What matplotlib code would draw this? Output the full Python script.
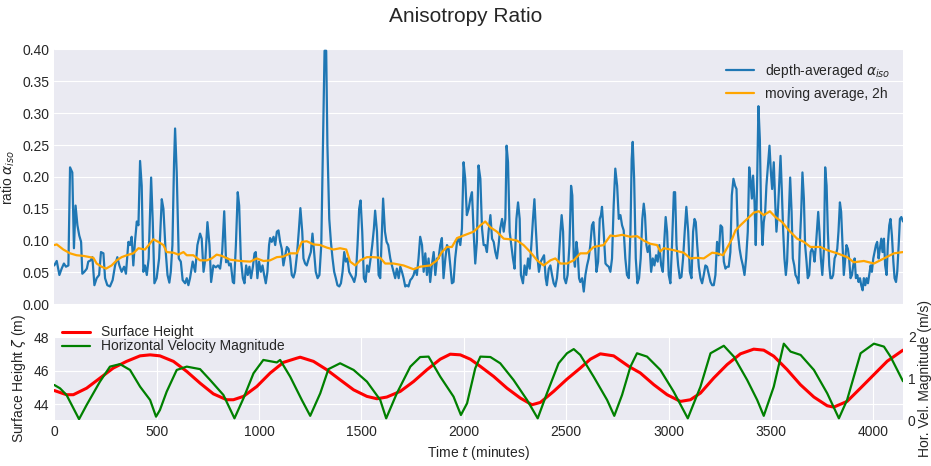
import matplotlib
matplotlib.use("Agg")
import matplotlib.pyplot as plt

# depth-averaged anisotropy ratio (minutes, ratio)
ratio_t = [
    0, 12, 25, 36, 47, 57, 69, 77, 88, 96,
    104, 113, 122, 131, 137, 147, 159, 166, 178, 186,
    196, 207, 219, 228, 240, 248, 259, 272, 285, 297,
    308, 318, 329, 341, 350, 362, 370, 378, 386, 394,
    403, 411, 419, 427, 435, 443, 452, 461, 473, 481,
    489, 500, 512, 525, 533, 543, 553, 562, 569, 577,
    585, 590, 598, 608, 618, 627, 639, 647, 655, 663,
    676, 688, 699, 712, 720, 729, 738, 748, 758, 766,
    777, 789, 800, 810, 820, 830,
    839, 846, 854, 862, 872, 878, 887, 896, 903, 911,
    921, 929, 937, 945, 953, 961, 970, 978, 984, 992,
    1000, 1009, 1017, 1025, 1033, 1041, 1049, 1054, 1062, 1071,
    1079, 1087, 1095, 1103, 1111, 1119, 1128, 1136, 1144, 1152,
    1160, 1168, 1176, 1185, 1194, 1202, 1211, 1217, 1225, 1233,
    1243, 1253, 1261, 1269, 1277, 1286, 1295, 1304, 1312, 1320,
    1328, 1334, 1343, 1351, 1359, 1367, 1375, 1383, 1392, 1400,
    1408, 1416, 1424, 1432, 1440, 1448, 1457, 1465, 1473, 1481,
    1489, 1496, 1504, 1512, 1520, 1528, 1536, 1545, 1553, 1561,
    1567, 1576, 1584, 1592, 1600, 1606, 1615, 1623, 1631, 1641,
    1649, 1657,
    1665, 1673, 1682, 1690, 1698, 1706, 1714, 1722, 1730, 1739,
    1747, 1755, 1763, 1771, 1779, 1787, 1796, 1804, 1812, 1820,
    1828, 1836, 1844, 1853, 1861, 1869, 1877, 1885, 1893, 1901,
    1910, 1918, 1926, 1934, 1942, 1950, 1958, 1967, 1975, 1983,
    1991, 1999, 2007, 2015, 2024, 2032, 2040, 2048, 2056, 2064,
    2072, 2081, 2089, 2097, 2105, 2113, 2121, 2130, 2138, 2146,
    2154, 2162, 2170, 2178, 2187, 2195, 2203, 2209, 2216, 2224,
    2232, 2240, 2248, 2257, 2265, 2273, 2279, 2289, 2297, 2305,
    2314, 2322, 2330, 2338, 2345, 2351, 2359, 2367, 2376, 2384,
    2392, 2400, 2406, 2415, 2423, 2431, 2439, 2447, 2455, 2464,
    2472, 2478, 2485, 2491,
    2499, 2507, 2516, 2524, 2530, 2537, 2543, 2550, 2556, 2563,
    2569, 2578, 2586, 2594, 2602, 2610, 2618, 2626, 2633, 2641,
    2648, 2656, 2664, 2670, 2675, 2683, 2692, 2700, 2708, 2716,
    2724, 2732, 2740, 2749, 2757, 2765, 2773, 2781, 2789, 2797,
    2806, 2814, 2820, 2825, 2832, 2840, 2848, 2856, 2864, 2872,
    2879, 2885, 2892, 2898, 2907, 2915, 2923, 2931, 2939, 2947,
    2955, 2964, 2972, 2980, 2986, 2993, 3001, 3009, 3017, 3026,
    3032, 3039, 3047, 3055, 3063, 3071, 3079, 3087, 3096, 3104,
    3112, 3120, 3127, 3133, 3140, 3148, 3156, 3164, 3172, 3180,
    3188, 3197, 3205, 3213, 3221, 3229, 3237, 3245, 3254, 3262,
    3270, 3278, 3286, 3294, 3302, 3309, 3317, 3325,
    3332, 3338, 3347, 3355, 3363, 3371, 3379, 3387, 3394, 3400,
    3407, 3413, 3420, 3426, 3433, 3439, 3446, 3452, 3459, 3465,
    3472, 3478, 3487, 3493, 3500, 3506, 3514, 3521, 3527, 3534,
    3540, 3547, 3553, 3560, 3566, 3573, 3579, 3588, 3594, 3601,
    3607, 3614, 3620, 3628, 3635, 3641, 3648, 3654, 3661, 3667,
    3674, 3680, 3687, 3694, 3700, 3707, 3713, 3720, 3726, 3731,
    3737, 3744, 3751, 3759, 3765, 3772, 3778, 3785, 3791, 3798,
    3804, 3811, 3817, 3824, 3830, 3837, 3843, 3850, 3856, 3863,
    3869, 3876, 3882, 3889, 3896, 3902, 3909, 3915, 3922, 3928,
    3935, 3941, 3948, 3954, 3961, 3967, 3974, 3980, 3987, 3993,
    4000, 4006, 4013, 4019, 4026, 4032, 4039, 4045, 4052, 4058,
    4065, 4071, 4078, 4084, 4091, 4098, 4104, 4111, 4117, 4124,
    4130, 4137, 4145,
]
ratio_vals = [
    .061, .068, .046, .056, .064, .059, .061, .215, .207, .088,
    .155, .124, .108, .098, .048, .051, .056, .067, .069, .074,
    .030, .041, .046, .082, .080, .041, .030, .028, .038, .061,
    .074, .061, .051, .059, .048, .098, .093, .106, .061, .098,
    .130, .124, .225, .186, .051, .061, .046, .072, .199, .129,
    .033, .041, .072, .165, .150, .088, .046, .034, .051, .093,
    .223, .276, .207, .072, .067, .038, .033, .041, .030, .041,
    .067, .051, .093, .111, .103, .051, .072, .129, .093, .035,
    .061, .058, .061, .056, .082, .146,
    .066, .072, .061, .064, .035, .033, .093, .176, .155, .072,
    .041, .033, .061, .046, .059, .041, .059, .080, .082, .041,
    .067, .051, .061, .046, .033, .051, .093, .104, .098, .106,
    .093, .114, .116, .098, .087, .061, .077, .090, .087, .072,
    .046, .042, .051, .077, .114, .151, .114, .072, .064, .061,
    .072, .082, .111, .082, .051, .041, .046, .093, .249, .398,
    .398, .249, .134, .098, .072, .051, .041, .030, .028, .033,
    .051, .082, .067, .072, .051, .046, .041, .035, .046, .093,
    .150, .163, .114, .041, .035, .061, .051, .072, .093, .119,
    .147, .114, .046, .041, .114, .166, .114, .098, .093, .072,
    .061, .051,
    .041, .056, .041, .059, .051, .041, .028, .030, .028, .038,
    .041, .046, .056, .046, .072, .106, .093, .051, .080, .046,
    .072, .035, .061, .082, .046, .072, .072, .093, .104, .041,
    .072, .093, .087, .061, .033, .035, .072, .098, .103, .093,
    .119, .223, .197, .140, .150, .166, .176, .114, .064, .098,
    .218, .197, .119, .093, .093, .082, .114, .140, .103, .098,
    .082, .072, .093, .119, .134, .114, .134, .249, .223, .114,
    .093, .072, .056, .134, .160, .134, .046, .033, .061, .046,
    .072, .056, .093, .134, .165, .124, .077, .051, .067, .072,
    .077, .041, .030, .056, .061, .046, .033, .028, .041, .072,
    .114, .140, .114, .041,
    .033, .046, .093, .186, .171, .072, .059, .098, .082, .041,
    .035, .041, .020, .046, .061, .072, .093, .124, .129, .093,
    .051, .067, .134, .140, .153, .114, .064, .061, .059, .051,
    .072, .155, .213, .186, .134, .140, .124, .116, .072, .046,
    .041, .114, .228, .255, .197, .072, .033, .041, .072, .134,
    .158, .140, .093, .082, .093, .051, .072, .061, .077, .067,
    .093, .061, .051, .103, .137, .114, .046, .033, .093, .176,
    .176, .093, .061, .041, .043, .072, .114, .153, .114, .051,
    .041, .114, .134, .129, .093, .059, .041, .033, .046, .061,
    .059, .046, .035, .030, .030, .046, .098, .077, .124, .121,
    .067, .056, .059, .059, .082, .171, .197, .186,
    .181, .114, .087, .072, .061, .046, .072, .114, .215, .197,
    .166, .202, .160, .093, .197, .311, .259, .145, .093, .129,
    .145, .186, .223, .249, .207, .181, .223, .160, .114, .145,
    .186, .233, .181, .114, .072, .046, .067, .145, .199, .145,
    .072, .061, .046, .041, .033, .093, .145, .207, .166, .093,
    .067, .041, .046, .082, .087, .082, .067, .093, .121, .145,
    .114, .072, .046, .087, .215, .186, .114, .061, .041, .041,
    .046, .072, .077, .087, .114, .160, .145, .093, .046, .072,
    .093, .087, .072, .041, .046, .061, .072, .041, .046, .035,
    .041, .030, .022, .041, .030, .041, .033, .046, .061, .051,
    .072, .082, .093, .098, .072, .087, .103, .082, .103, .061,
    .046, .093, .124, .134, .108, .067, .041, .035, .051, .093,
    .134, .137, .130,
]

# 2h moving average
avg_t = [
    0, 12, 44, 77, 109, 142, 174, 191, 207, 231,
    253, 280, 305, 329, 354, 386, 411, 443, 484, 508,
    533, 549, 582, 606, 631, 647, 679, 712, 745, 769,
    793, 818,
    859, 908, 957, 989, 1022, 1054, 1087, 1119, 1152, 1185,
    1209, 1233, 1266, 1299, 1331, 1364, 1396, 1426, 1445, 1470,
    1494, 1527, 1559, 1592, 1616, 1657,
    1706, 1755, 1787, 1836, 1869, 1893, 1918, 1942, 1967, 2007,
    2048, 2081, 2105, 2129, 2162, 2195, 2227, 2260, 2292, 2325,
    2358, 2390, 2423, 2447, 2472, 2504,
    2537, 2569, 2602, 2634, 2683, 2716, 2740, 2773, 2814, 2846,
    2879, 2911, 2944, 2960, 2977, 3025, 3074, 3107, 3139, 3172,
    3213, 3237, 3266, 3294, 3311, 3327,
    3351, 3384, 3417, 3441, 3465, 3495, 3522, 3555, 3588, 3628,
    3661, 3693, 3742, 3775, 3824, 3873, 3905, 3954, 4003, 4052,
    4101, 4145,
]
avg_vals = [
    .093, .094, .086, .080, .077, .076, .074, .073, .064, .059,
    .056, .061, .069, .074, .077, .080, .088, .086, .102, .098,
    .093, .082, .081, .078, .082, .077, .077, .069, .069, .072,
    .078, .076,
    .070, .068, .067, .072, .068, .069, .074, .075, .080, .080,
    .098, .099, .094, .093, .089, .086, .088, .086, .067, .061,
    .069, .074, .074, .073, .064, .064,
    .061, .055, .059, .061, .069, .082, .090, .090, .104, .109,
    .114, .124, .130, .121, .114, .103, .102, .100, .093, .082,
    .069, .061, .069, .072, .064, .064,
    .069, .080, .080, .090, .093, .108, .107, .109, .106, .107,
    .100, .095, .093, .083, .088, .085, .081, .072, .073, .072,
    .081, .080, .077, .093, .103, .116,
    .124, .134, .144, .146, .140, .146, .137, .129, .116, .103,
    .098, .090, .090, .085, .080, .074, .066, .068, .064, .072,
    .080, .082,
]

# surface height (m)
height_t = [
    0, 60, 93, 158, 223, 288, 353, 419, 468, 516,
    582, 647, 712, 777, 842, 875, 924, 989, 1054, 1119,
    1184, 1201, 1266, 1331, 1396, 1462, 1527, 1576, 1624, 1690,
    1755, 1820, 1885, 1934, 1983, 2032, 2081, 2146, 2211, 2276,
    2333, 2374, 2439, 2504, 2569, 2618, 2667, 2732, 2806, 2862,
    2928, 2993, 3058, 3107, 3156, 3221, 3286, 3351, 3416, 3465,
    3514, 3579, 3644, 3710, 3775, 3807, 3872, 3938, 4003, 4068,
    4145,
]
height_vals = [
    44.81, 44.56, 44.56, 44.95, 45.55, 46.15, 46.55, 46.88, 46.94, 46.88,
    46.55, 45.95, 45.25, 44.61, 44.26, 44.26, 44.46, 45.05, 45.85, 46.49,
    46.74, 46.80, 46.55, 46.05, 45.45, 44.85, 44.46, 44.32, 44.42, 44.76,
    45.35, 46.05, 46.68, 46.98, 46.94, 46.68, 46.25, 45.65, 44.95, 44.36,
    43.96, 44.10, 44.76, 45.49, 46.15, 46.68, 47.00, 46.88, 46.25, 45.86,
    45.16, 44.56, 44.16, 44.26, 44.66, 45.56, 46.36, 47.00, 47.28, 47.22,
    46.86, 46.06, 45.16, 44.42, 43.90, 43.82, 44.16, 44.96, 45.76, 46.56,
    47.22,
]

# horizontal velocity magnitude (m/s)
vel_t = [
    0, 28, 60, 121, 158, 223, 272, 321, 370, 419,
    468, 497, 516, 549, 598, 647, 712, 761, 826, 880,
    924, 973, 1021, 1087, 1103, 1152, 1209, 1250,
    1299, 1339, 1396, 1462, 1527, 1592, 1621, 1673, 1739, 1787,
    1828, 1885, 1950, 1986, 2016, 2056, 2081, 2130, 2178, 2243,
    2309, 2361, 2406, 2463, 2504, 2537, 2569, 2634, 2700, 2735,
    2773, 2814,
    2846, 2895, 2960, 3025, 3094, 3156, 3205, 3270, 3319, 3384,
    3433, 3465, 3514, 3563, 3596, 3645, 3710, 3775, 3832, 3872,
    3938, 4003, 4052, 4084, 4145,
]
vel_vals = [
    .84, .76, .60, .02, .36, .92, 1.28, 1.34, 1.20, .80,
    .48, .08, .24, .68, 1.20, 1.28, 1.22, .96, .60, .04,
    .52, 1.12, 1.44, 1.38, 1.44, 1.04, .48, .10,
    .64, 1.22, 1.36, 1.20, .92, .48, .04, .64, 1.28, 1.51,
    1.52, 1.04, .56, .12, .40, 1.24, 1.52, 1.51, 1.36, .96,
    .48, .04, .64, 1.36, 1.60, 1.70, 1.56, 1.04, .48, .10,
    .60, 1.28,
    1.60, 1.52, 1.20, .68, .04, .80, 1.60, 1.78, 1.52, .96,
    .48, .10, .80, 1.83, 1.64, 1.56, 1.20, .64, .04, .48,
    1.60, 1.83, 1.76, 1.52, .93,
]

plt.style.use("seaborn-v0_8-darkgrid")
plt.rcParams["font.family"] = ["Liberation Sans", "DejaVu Sans"]
plt.rcParams["text.color"] = ".15"
plt.rcParams["axes.labelcolor"] = ".15"
plt.rcParams["xtick.color"] = ".15"
plt.rcParams["ytick.color"] = ".15"

fig = plt.figure(figsize=(9.31, 4.66), dpi=100)
ax1 = fig.add_axes([0.0583, 0.347, 0.9116, 0.5468])
ax2 = fig.add_axes([0.0583, 0.0987, 0.9116, 0.179])
ax3 = ax2.twinx()

# top panel: ratio
ax1.plot(ratio_t, ratio_vals, color="#1f77b4", lw=1.6, label=r"depth-averaged $\alpha_{iso}$")
ax1.plot(avg_t, avg_vals, color="orange", lw=1.6, label="moving average, 2h")
ax1.set_xlim(ratio_t[0], ratio_t[-1])
ax1.set_ylim(0, 0.40)
ax1.set_yticks([0.0, 0.05, 0.10, 0.15, 0.20, 0.25, 0.30, 0.35, 0.40])
ax1.set_yticklabels([f"{v:.2f}" for v in ax1.get_yticks()])
ax1.set_xticks([])
ax1.set_ylabel(r"ratio $\alpha_{iso}$")
ax1.legend(loc="upper right", frameon=False, fontsize=10)

# bottom panel: tide
l1, = ax2.plot(height_t, height_vals, color="red", lw=2.2, label="Surface Height")
l2, = ax3.plot(vel_t, vel_vals, color="green", lw=1.6, label="Horizontal Velocity Magnitude")
ax2.set_xlim(ratio_t[0], ratio_t[-1])
ax2.set_ylim(43.05, 48.03)
ax2.set_yticks([44, 46, 48])
ax3.set_ylim(0, 2)
ax3.set_yticks([0, 1, 2])
ax3.grid(False)
ax2.set_xticks(range(0, 4001, 500))
ax2.set_xlabel(r"Time $t$ (minutes)")
ax2.set_ylabel(r"Surface Height $\zeta$ (m)")
ax3.set_ylabel("Hor. Vel. Magnitude (m/s)", labelpad=1.5)
ax2.legend(handles=[l1, l2], loc="upper left", bbox_to_anchor=(0.003, 1.2),
           borderaxespad=0, labelspacing=0.0, frameon=False, fontsize=10)

fig.suptitle("Anisotropy Ratio", fontsize=15, y=0.985)

fig.savefig("out.png", dpi=100)
